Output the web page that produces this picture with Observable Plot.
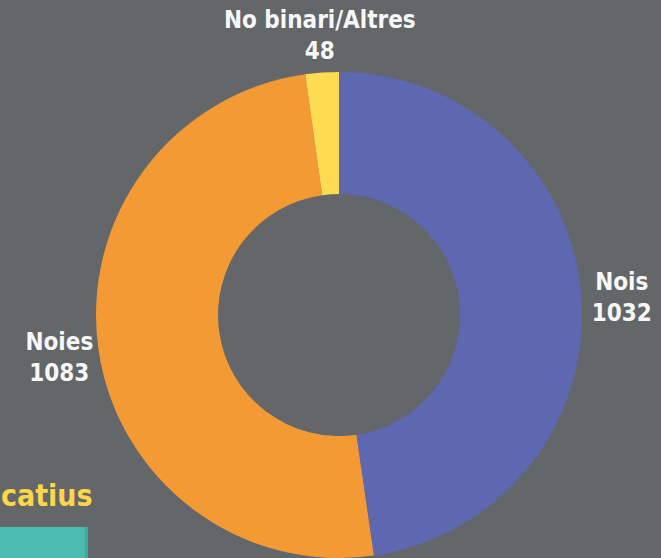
<!DOCTYPE html>
<html><head><meta charset="utf-8">
<script src="https://cdn.jsdelivr.net/npm/d3@7"></script>
<script src="https://cdn.jsdelivr.net/npm/@observablehq/plot@0.6"></script>
<style>
html,body{margin:0;padding:0;background:#63676a;overflow:hidden}
#wrap{position:relative;width:661px;height:558px}
#frag{position:absolute;left:1px;top:478px;color:#fdd64a;font:bold 30px "Liberation Sans Narrow","DejaVu Sans Condensed",sans-serif;line-height:36px;white-space:nowrap}
#bar{position:absolute;left:0;top:527px;width:85px;height:31px;background:#4bbcb2;border-right:3px solid #3fa89f}
</style></head>
<body><div id="wrap"><div id="frag">catius</div><div id="bar"></div></div>
<script>
const categories = ["Nois", "Noies", "No binari/Altres"];
const values = [1032, 1083, 48];
const colors = ["#5d68b1", "#f49a34", "#fddc52"];

const outerR = 243, innerR = 121, labelR = 283;
const pie = d3.pie().sort(null).value(d => d.value);
const arcs = pie(categories.map((c, i) => ({category: c, value: values[i], color: colors[i]})));
const labelArc = d3.arc().innerRadius(labelR).outerRadius(labelR);
const labels = arcs.map(a => {
  const [lx, ly] = labelArc.centroid(a);
  return {x: lx, y: ly, text: a.data.category + "\n" + a.data.value};
});

const donut = (index, scales) => {
  const g = d3.create("svg:g");
  const cx = scales.x(0), cy = scales.y(0);
  const path = d3.arc().innerRadius(innerR).outerRadius(outerR);
  g.attr("transform", `translate(${cx},${cy})`)
    .selectAll("path").data(arcs).join("path")
    .attr("d", path).attr("fill", d => d.data.color);
  return g.node();
};

const chart = Plot.plot({
  width: 661, height: 558, margin: 0,
  style: {background: "transparent", overflow: "visible"},
  x: {domain: [-339, 322], range: [0, 661], axis: null},
  y: {domain: [-315, 243], range: [0, 558], axis: null},
  marks: [
    donut,
    Plot.text(labels, {x: "x", y: "y", text: "text", fill: "#f7f7f7",
      fontSize: 24, fontWeight: "bold", lineHeight: 1.3,
      fontFamily: "'Liberation Sans Narrow','DejaVu Sans Condensed',sans-serif"})
  ]
});
chart.style.position = "absolute";
chart.style.left = "0";
chart.style.top = "0";
document.getElementById("wrap").prepend(chart);
</script>
</body></html>
